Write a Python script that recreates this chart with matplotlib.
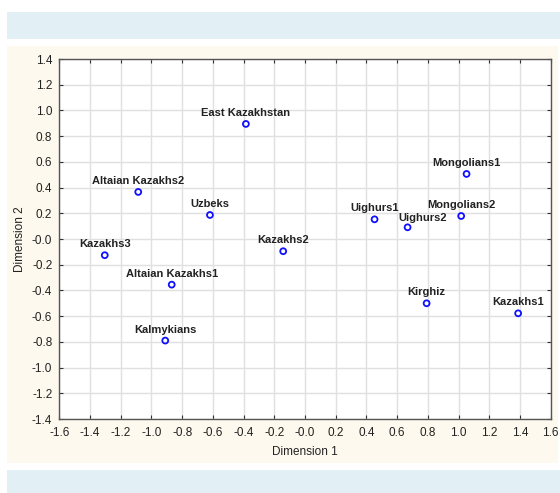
import matplotlib
matplotlib.use("Agg")
import matplotlib.pyplot as plt
from matplotlib.patches import Rectangle
import numpy as np

plt.rcParams['font.family'] = ['Liberation Sans', 'DejaVu Sans']

names = ["East Kazakhstan", "Altaian Kazakhs2", "Uzbeks", "Kazakhs3", "Altaian Kazakhs1",
         "Kalmykians", "Kazakhs2", "Uighurs1", "Uighurs2", "Mongolians2", "Mongolians1",
         "Kirghiz", "Kazakhs1"]
dim1 = [-0.385, -1.086, -0.619, -1.304, -0.868, -0.910, -0.142, 0.453, 0.668, 1.017, 1.052, 0.792, 1.388]
dim2 = [0.895, 0.366, 0.187, -0.126, -0.355, -0.790, -0.095, 0.153, 0.091, 0.179, 0.506, -0.500, -0.578]
xticks = np.round(np.arange(-1.6, 1.61, 0.2), 1)
yticks = np.round(np.arange(-1.4, 1.41, 0.2), 1)

W, H = 560, 493
fig = plt.figure(figsize=(W / 100, H / 100), dpi=100)
fig.patch.set_facecolor("white")

def band(x0, y0, x1, y1, color):
    fig.patches.append(Rectangle((x0 / W, 1 - y1 / H), (x1 - x0) / W, (y1 - y0) / H,
                                 transform=fig.transFigure, facecolor=color,
                                 edgecolor="none", zorder=-10))

band(7, 12, 560, 39, "#e2f0f5")
band(7, 46, 558, 463, "#fdf9ee")
band(7, 470, 560, 493, "#e2f0f5")

ax = fig.add_axes([59.3 / W, 1 - 419 / H, (550.7 - 59.3) / W, (419 - 59) / H])
ax.set_facecolor("white")
ax.set_xlim(-1.6, 1.6)
ax.set_ylim(-1.4, 1.4)
ax.set_xticks(xticks)
ax.set_yticks(yticks)
ax.set_xticklabels([f"{v:.1f}" for v in xticks])
ax.set_yticklabels([f"{v:.1f}" for v in yticks])
ax.grid(True, color="#e0e0e0", linewidth=1.0)
ax.set_axisbelow(True)
ax.tick_params(direction="in", length=3, top=True, right=True, labelsize=8.5,
               colors="#333333", labelcolor="#222222")
ax.tick_params(axis="x", pad=6)
ax.tick_params(axis="y", pad=5)
for s in ax.spines.values():
    s.set_color("#555555")
    s.set_linewidth(1.0)

ax.scatter(dim1, dim2, s=18, facecolors="none", edgecolors="#1010ff", linewidths=1.3, zorder=3)

offsets = {"Uighurs2": (15, 6)}
for n, x, y in zip(names, dim1, dim2):
    dx, dy = offsets.get(n, (0, 8))
    ax.annotate(n, (x, y), xytext=(dx, dy), textcoords="offset pixels",
                ha="center", va="baseline", fontsize=8, fontweight="bold", color="#222222")

fig.text(304.5 / W, 1 - 452 / H, "Dimension 1", ha="center", va="center", fontsize=8.5, color="#222222")
fig.text(20 / W, 1 - 239 / H, "Dimension 2", ha="center", va="center", rotation=90,
         fontsize=8.5, color="#222222")

fig.savefig("out.png", dpi=100)
